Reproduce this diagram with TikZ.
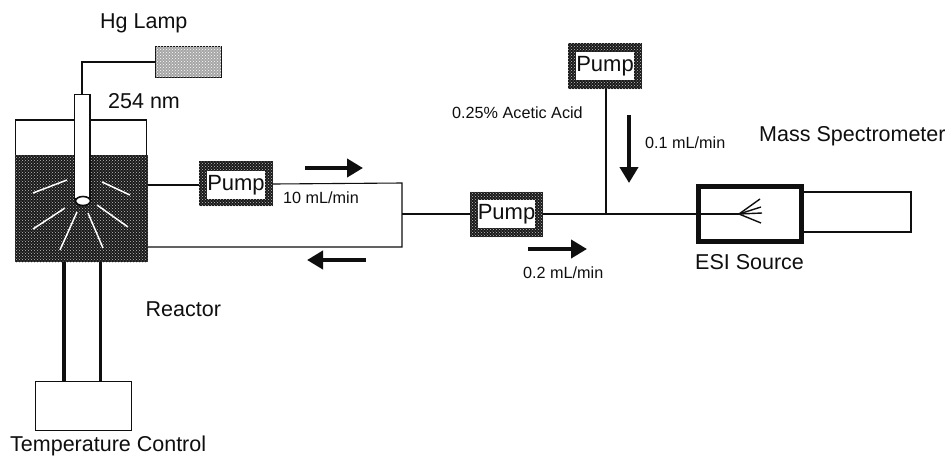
\documentclass[tikz,border=0pt]{standalone}
\usepackage{fontspec}
\setmainfont{Liberation Sans}
\usetikzlibrary{patterns,arrows.meta,shapes.geometric}
\definecolor{ink}{gray}{0.06}
\tikzset{
  x=1pt,y=-1pt,
  every node/.style={inner sep=0pt,text=ink},
  wire/.style={draw=ink,line width=1.1pt},
  bigtext/.style={font=\fontsize{21.5}{24}\selectfont,anchor=west},
  smalltext/.style={font=\fontsize{16.2}{18}\selectfont,anchor=west},
  dotfill/.style={fill=black!90,postaction={pattern=crosshatch dots,pattern color=white!75!black}},
  flow/.style={draw=ink,line width=4pt,-{Triangle[length=16pt,width=18pt]}},
  ray/.style={draw=white,line width=1.5pt},
  pumpinner/.style={fill=white,minimum width=56pt,minimum height=28pt,font=\fontsize{22}{24}\selectfont},
}
\begin{document}
\begin{tikzpicture}
\useasboundingbox (0,0) rectangle (945,456);
\fill[white] (0,0) rectangle (945,456);
% coordinates
\coordinate (bend) at (82,62);
\coordinate (tubeT) at (82,94);
% lamp
\node[draw=ink,line width=1.6pt,minimum width=66pt,minimum height=31pt,fill=black!35,postaction={pattern=crosshatch dots,pattern color=white}] (lamp) at (188.5,62) {};
\draw[wire] (lamp.west) -- (bend) -- (tubeT);
\node[bigtext] (hg) at (100,23) {Hg Lamp};
\node[bigtext] (nm) at (108,101) {254 nm};
% reactor
\draw[draw=ink,line width=1.4pt] (15.5,120) rectangle (146.5,156);
\path[dotfill] (15,155) rectangle (148,262);
% rays
\coordinate (bulb) at (83,201);
\foreach \a/\b/\c/\d in {67/180/33/193, 102/182/130/195, 65/208/33/229, 97/205/128/227, 77/212/60/250, 88/213/103/248}{
  \draw[ray] (\a,\b) -- (\c,\d);
}
\draw[draw=ink,line width=1.2pt,fill=white] (74.5,94.5) -- (90,94.5) -- (90,199) -- (74.5,199) -- cycle;
\node[ellipse,fill=white,draw=ink,line width=1.6pt,minimum width=15pt,minimum height=9pt] (bulbn) at (bulb) {};
% legs + temp control
\node[draw=ink,line width=1.3pt,minimum width=96pt,minimum height=48.5pt] (temp) at (83.5,406) {};
\draw[draw=ink,line width=4pt] (63.5,262) -- (63.5,382);
\draw[draw=ink,line width=2.6pt] (100.5,262) -- (100.5,382);
\node[bigtext] (tc) at (10,445.5) {Temperature Control};
\node[bigtext] (rl) at (145.5,309) {Reactor};
% pumps
\fill[dotfill] (199,161) rectangle (273,206);
\node[pumpinner] (p1) at (236,185) {Pump};
\fill[dotfill] (470,191.5) rectangle (543,237);
\node[pumpinner] (p2) at (506.5,214) {Pump};
\fill[dotfill] (568,43) rectangle (642,89);
\node[pumpinner] (p3) at (605,66) {Pump};
\coordinate (p1L) at (199,185);
\coordinate (p1R) at (273,184);
\coordinate (p2L) at (470,214);
\coordinate (p2R) at (543,214);
\coordinate (p3B) at (606,89);
\coordinate (j) at (606,214);
\coordinate (rTop) at (148,185);
\coordinate (rBot) at (148,247);
\coordinate (loopT) at (402,183);
\coordinate (loopB) at (402,247);
\coordinate (loopM) at (402,214);
\draw[wire] (rTop) -- (p1L);
\draw[wire] (p1R) -- (loopT) -- (loopB) -- (rBot);
\draw[wire] (loopM) -- (p2L);
\draw[wire] (p2R) -- (696,214);
\draw[wire] (p3B) -- (j);
% flows
\coordinate (a1s) at (305,168); \coordinate (a1e) at (363,168);
\coordinate (a2s) at (366,260); \coordinate (a2e) at (307,260);
\coordinate (a3s) at (528,249); \coordinate (a3e) at (587,249);
\coordinate (a4s) at (629,115); \coordinate (a4e) at (629,183);
\draw[flow] (a1s) -- (a1e);
\draw[flow] (a2s) -- (a2e);
\draw[flow] (a3s) -- (a3e);
\draw[flow] (a4s) -- (a4e);
\node[smalltext] (l1) at (283,198) {10 mL/min};
\node[smalltext] (l2) at (523,273) {0.2 mL/min};
\node[smalltext] (l3) at (645,143) {0.1 mL/min};
\node[smalltext] (l4) at (452,113) {0.25\% Acetic Acid};
% ESI
\draw[draw=ink,line width=1.3pt] (804,192) -- (911,192) -- (911,232) -- (804,232);
\node[draw=ink,line width=5pt,minimum width=103pt,minimum height=55pt] (esi) at (750,214) {};
\draw[draw=ink,line width=2.6pt] (696,214) -- (739,214);
\coordinate (tip) at (739,214);
\foreach \x/\y in {760/199, 761/207, 762/213, 761/223}{\draw[draw=ink,line width=1.4pt] (tip) -- (\x,\y);}
\node[bigtext] (es) at (695,262) {ESI Source};
\node[bigtext] (ms) at (759,136) {Mass Spectrometer};
\end{tikzpicture}
\end{document}
